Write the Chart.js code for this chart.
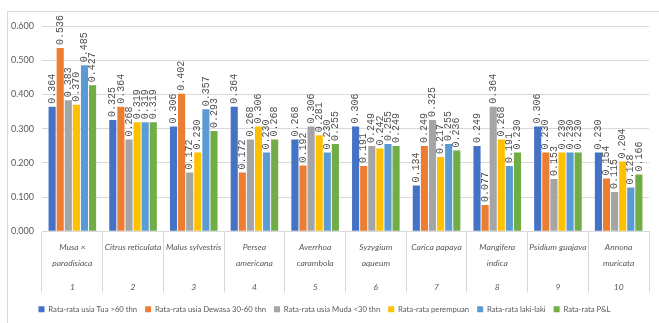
<!DOCTYPE html>
<html>
<head>
<meta charset="utf-8">
<script src="https://cdn.jsdelivr.net/npm/chart.js@4/dist/chart.umd.min.js"></script>
<style>
  html, body { margin: 0; padding: 0; background: #ffffff; overflow: hidden; }
  #wrap { position: relative; width: 659px; height: 323px; overflow: hidden; }
  #frame { position: absolute; left: 7px; top: 11px; width: 700px; height: 400px; border: 1px solid #d9d9d9; box-sizing: border-box; }
  #c { position: absolute; left: 0; top: 0; }
</style>
</head>
<body>
<div id="wrap">
  <div id="frame"></div>
  <canvas id="c" width="659" height="323"></canvas>
</div>
<script>
// ---- data ----
const speciesNames = [
  ["Musa \u00d7", "paradisiaca"],
  ["Citrus reticulata"],
  ["Malus sylvestris"],
  ["Persea", "americana"],
  ["Averrhoa", "carambola"],
  ["Syzygium", "aqueum"],
  ["Carica papaya"],
  ["Mangifera", "indica"],
  ["Psidium guajava"],
  ["Annona", "muricata"]
];
const categoryNumbers = ["1", "2", "3", "4", "5", "6", "7", "8", "9", "10"];
const seriesNames = [
  "Rata-rata usia Tua >60 thn",
  "Rata-rata usia Dewasa 30-60 thn",
  "Rata-rata usia Muda <30 thn",
  "Rata-rata perempuan",
  "Rata-rata laki-laki",
  "Rata-rata P&L"
];
const tuaValues       = [0.364, 0.325, 0.306, 0.364, 0.268, 0.306, 0.134, 0.249, 0.306, 0.230];
const dewasaValues    = [0.536, 0.364, 0.402, 0.172, 0.192, 0.191, 0.249, 0.077, 0.230, 0.154];
const mudaValues      = [0.383, 0.268, 0.172, 0.268, 0.306, 0.249, 0.325, 0.364, 0.153, 0.115];
const perempuanValues = [0.370, 0.319, 0.230, 0.306, 0.281, 0.242, 0.217, 0.268, 0.230, 0.204];
const lakiValues      = [0.485, 0.319, 0.357, 0.230, 0.230, 0.255, 0.255, 0.191, 0.230, 0.128];
const plValues        = [0.427, 0.319, 0.293, 0.268, 0.255, 0.249, 0.236, 0.230, 0.230, 0.166];
const yTicks = [0, 0.1, 0.2, 0.3, 0.4, 0.5, 0.6];

// ---- styling ----
const colors = ["#4472C4", "#ED7D31", "#A5A5A5", "#FFC000", "#5B9BD5", "#70AD47"];
const allSeries = [tuaValues, dewasaValues, mudaValues, perempuanValues, lakiValues, plValues];
const textColor = "#595959";
const gridColor = "#d9d9d9";

const labels = speciesNames.map((n, i) =>
  n.length === 2 ? [n[0], "", n[1], "", "", categoryNumbers[i]]
                 : [n[0], "", "", "", "", categoryNumbers[i]]);

const datasets = allSeries.map((vals, i) => ({
  label: seriesNames[i],
  data: vals,
  backgroundColor: colors[i],
  borderWidth: 0,
  categoryPercentage: 0.8,
  barPercentage: 0.88
}));

const valueLabels = {
  id: "valueLabels",
  afterDatasetsDraw(chart) {
    const ctx = chart.ctx;
    ctx.save();
    ctx.font = "10px 'Liberation Mono', 'DejaVu Sans Mono', monospace";
    ctx.fillStyle = "#505050";
    ctx.textAlign = "left";
    ctx.textBaseline = "middle";
    chart.data.datasets.forEach((ds, di) => {
      const meta = chart.getDatasetMeta(di);
      meta.data.forEach((bar, j) => {
        ctx.save();
        ctx.translate(bar.x, bar.y - 3);
        ctx.rotate(-Math.PI / 2);
        ctx.fillText(ds.data[j].toFixed(3), 0, 0);
        ctx.restore();
      });
    });
    ctx.restore();
  }
};

new Chart(document.getElementById("c"), {
  type: "bar",
  data: { labels: labels, datasets: datasets },
  options: {
    responsive: false,
    devicePixelRatio: 1,
    animation: false,
    layout: { padding: { left: 0, top: 26, right: 10, bottom: 0 } },
    plugins: {
      legend: {
        position: "bottom",
        labels: {
          boxWidth: 6,
          boxHeight: 6,
          padding: 8,
          color: textColor,
          font: { family: "Lato", size: 7.7 }
        }
      },
      tooltip: { enabled: false }
    },
    scales: {
      x: {
        grid: {
          offset: true,
          drawOnChartArea: false,
          drawTicks: true,
          tickLength: 61,
          color: gridColor
        },
        border: { display: true, color: gridColor },
        ticks: {
          autoSkip: false,
          maxRotation: 0,
          minRotation: 0,
          padding: -49,
          color: textColor,
          font: { family: "Lato", size: 8.5, style: "italic", lineHeight: "8px" }
        },
        afterFit(scale) { scale.height = 66; }
      },
      y: {
        min: 0,
        max: 0.6,
        afterBuildTicks(scale) { scale.ticks = yTicks.map(v => ({ value: v })); },
        grid: { color: gridColor, drawTicks: false },
        border: { display: false },
        ticks: {
          padding: 8,
          color: textColor,
          font: { family: "Lato", size: 9 },
          callback: (v) => Number(v).toFixed(3)
        },
        afterFit(scale) { scale.width = 42; }
      }
    }
  },
  plugins: [valueLabels]
});
</script>
</body>
</html>
